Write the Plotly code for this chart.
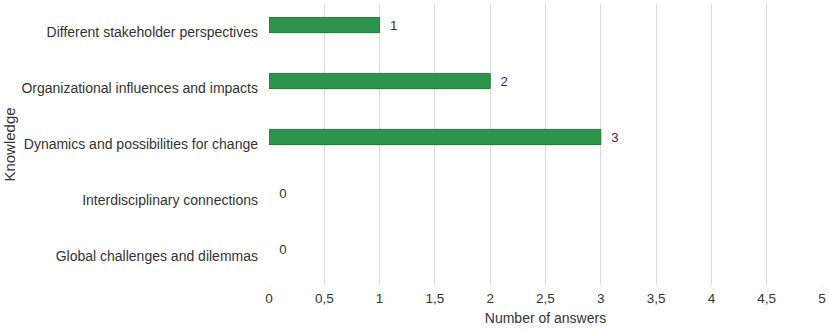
import plotly.graph_objects as go

categories = [
    "Different stakeholder perspectives",
    "Organizational influences and impacts",
    "Dynamics and possibilities for change",
    "Interdisciplinary connections",
    "Global challenges and dilemmas",
]
answers = [1, 2, 3, 0, 0]
x_tick_values = [0, 0.5, 1, 1.5, 2, 2.5, 3, 3.5, 4, 4.5, 5]

FONT = "Liberation Sans, Arial, sans-serif"
TXT = "#333333"

fig = go.Figure(
    go.Bar(
        y=categories,
        x=answers,
        orientation="h",
        width=0.27,
        offset=-0.26,
        marker=dict(
            color="#2f944b",
            line=dict(color="#1f7f37", width=[1 if v > 0 else 0 for v in answers]),
        ),
        text=["\u00a0\u00a0" + str(v) for v in answers],
        textposition="outside",
        textfont=dict(family=FONT, size=14, color=TXT),
        cliponaxis=False,
    )
)

fig.update_layout(
    width=829,
    height=330,
    margin=dict(l=269, r=7, t=4, b=45),
    paper_bgcolor="white",
    plot_bgcolor="white",
    separators=",.",
    showlegend=False,
    font=dict(family=FONT, size=14, color=TXT),
    xaxis=dict(
        range=[0, 5],
        tickvals=x_tick_values,
        automargin=False,
        showgrid=True,
        gridcolor="#d9d9d9",
        gridwidth=1,
        zeroline=False,
        showline=False,
        ticks="outside",
        ticklen=1,
        tickcolor="#d9d9d9",
        tickfont=dict(family=FONT, size=13.5, color=TXT),
        title=dict(text="Number of answers", font=dict(family=FONT, size=14, color=TXT), standoff=7),
    ),
    yaxis=dict(
        type="category",
        categoryorder="array",
        categoryarray=categories,
        range=[4.52, -0.5],
        automargin=False,
        showgrid=False,
        zeroline=False,
        showline=False,
        ticks="",
        ticklabelstandoff=10,
        tickfont=dict(family=FONT, size=14, color=TXT),
        title=dict(text="Knowledge", font=dict(family=FONT, size=15, color=TXT), standoff=2),
    ),
)

fig.write_html(
    "out.html",
    config={"displayModeBar": False},
    post_script="document.body.style.margin='0';document.body.style.overflow='hidden';",
)
